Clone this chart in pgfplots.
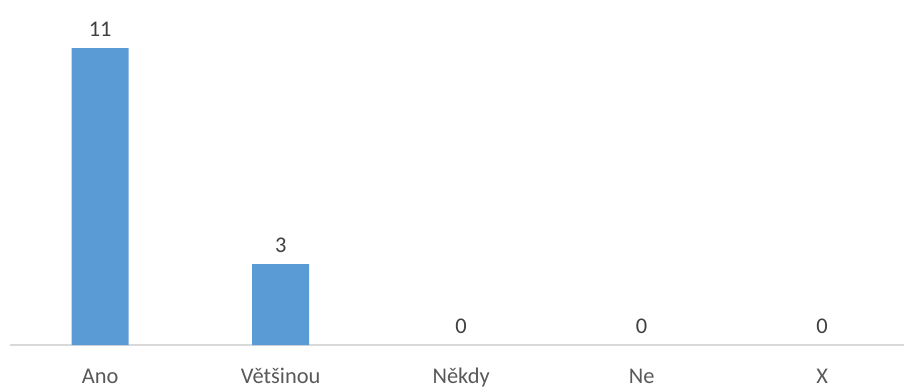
\documentclass[border=0pt]{standalone}
\usepackage{pgfplots}
\pgfplotsset{compat=1.18}
\usepackage{fontspec}
\setmainfont{Carlito}
\definecolor{barblue}{HTML}{5B9BD5}
\definecolor{txt}{HTML}{595959}
\definecolor{lbl}{HTML}{404040}
\definecolor{axl}{HTML}{D9D9D9}
\begin{document}
\begin{tikzpicture}
\useasboundingbox (0,0) rectangle (904bp,387bp);
\begin{axis}[
  at={(10bp,42bp)}, anchor=south west,
  scale only axis,
  width=894bp, height=345bp,
  xmin=-0.5, xmax=4.454,
  ymin=0, ymax=12.78,
  axis x line=bottom, axis y line=none,
  x axis line style={-, color=axl, line width=1.2bp},
  xtick={0,1,2,3,4},
  xticklabels={Ano, Většinou, Někdy, Ne, X},
  major tick length=0pt,
  xticklabel style={font=\fontsize{22.5}{26}\selectfont, color=txt, anchor=base, yshift=-38bp, inner sep=0pt},
  ybar, bar width=57bp,
  nodes near coords,
  every node near coord/.append style={font=\fontsize{22.5}{26}\selectfont, color=lbl, anchor=base, yshift=12bp, inner sep=0pt},
  /pgf/number format/assume math mode=true,
  clip=false,
]
\addplot[fill=barblue, draw=none, bar shift=0pt] coordinates {(0,11) (1,3)};
\addplot[fill=none, draw=none, bar shift=0pt] coordinates {(2,0) (3,0) (4,0)};
\end{axis}
\end{tikzpicture}
\end{document}
